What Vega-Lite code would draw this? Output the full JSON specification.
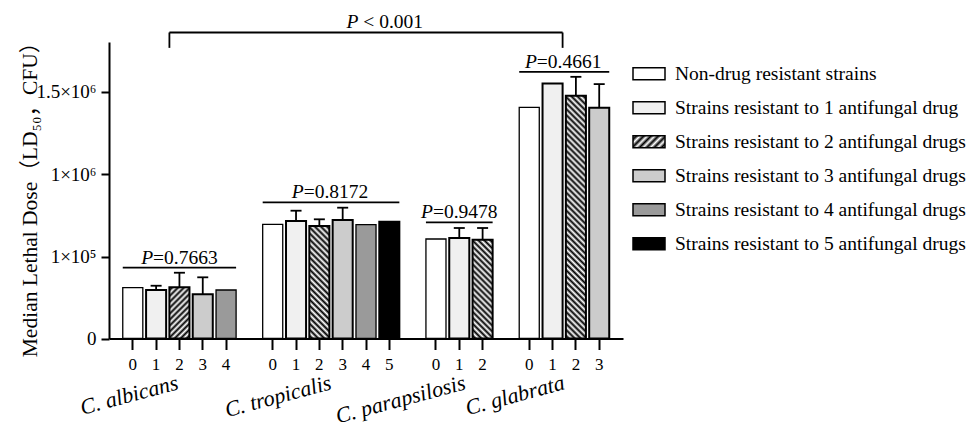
{
  "$schema": "https://vega.github.io/schema/vega-lite/v6.json",
  "width": 514,
  "height": 296.5,
  "autosize": {"type": "none"},
  "padding": {"left": 109, "top": 42, "right": 346, "bottom": 89.5},
  "background": "white",
  "config": {
    "view": {"stroke": null},
    "font": "Liberation Serif",
    "axis": {"labelFont": "Liberation Serif", "titleFont": "Liberation Serif, Noto Sans CJK SC", "labelColor": "black", "titleColor": "black", "domainColor": "black", "tickColor": "black", "grid": false}
  },
  "datasets": {
    "bars": [
      {"species": "albicans", "level": 0, "key": "albicans-0", "resistance": "Non-drug resistant strains", "value": 62100},
      {"species": "albicans", "level": 1, "key": "albicans-1", "resistance": "Strains resistant to 1 antifungal drug", "value": 59300, "upper": 64500},
      {"species": "albicans", "level": 2, "key": "albicans-2", "resistance": "Strains resistant to 2 antifungal drugs", "value": 62600, "upper": 80400},
      {"species": "albicans", "level": 3, "key": "albicans-3", "resistance": "Strains resistant to 3 antifungal drugs", "value": 54000, "upper": 74800},
      {"species": "albicans", "level": 4, "key": "albicans-4", "resistance": "Strains resistant to 4 antifungal drugs", "value": 59300},
      {"species": "tropicalis", "level": 0, "key": "tropicalis-0", "resistance": "Non-drug resistant strains", "value": 452600},
      {"species": "tropicalis", "level": 1, "key": "tropicalis-1", "resistance": "Strains resistant to 1 antifungal drug", "value": 488500, "upper": 600600},
      {"species": "tropicalis", "level": 2, "key": "tropicalis-2", "resistance": "Strains resistant to 2 antifungal drugs", "value": 434100, "upper": 507000},
      {"species": "tropicalis", "level": 3, "key": "tropicalis-3", "resistance": "Strains resistant to 3 antifungal drugs", "value": 499400, "upper": 633300},
      {"species": "tropicalis", "level": 4, "key": "tropicalis-4", "resistance": "Strains resistant to 4 antifungal drugs", "value": 448200},
      {"species": "tropicalis", "level": 5, "key": "tropicalis-5", "resistance": "Strains resistant to 5 antifungal drugs", "value": 480900},
      {"species": "parapsilosis", "level": 0, "key": "parapsilosis-0", "resistance": "Non-drug resistant strains", "value": 292600},
      {"species": "parapsilosis", "level": 1, "key": "parapsilosis-1", "resistance": "Strains resistant to 1 antifungal drug", "value": 303500, "upper": 412300},
      {"species": "parapsilosis", "level": 2, "key": "parapsilosis-2", "resistance": "Strains resistant to 2 antifungal drugs", "value": 285000, "upper": 412300},
      {"species": "glabrata", "level": 0, "key": "glabrata-0", "resistance": "Non-drug resistant strains", "value": 1405200},
      {"species": "glabrata", "level": 1, "key": "glabrata-1", "resistance": "Strains resistant to 1 antifungal drug", "value": 1551000},
      {"species": "glabrata", "level": 2, "key": "glabrata-2", "resistance": "Strains resistant to 2 antifungal drugs", "value": 1475700, "upper": 1591100},
      {"species": "glabrata", "level": 3, "key": "glabrata-3", "resistance": "Strains resistant to 3 antifungal drugs", "value": 1402800, "upper": 1546800}
    ],
    "brackets": [
      {"from": "albicans-0", "to": "albicans-4", "y": 86600},
      {"from": "tropicalis-0", "to": "tropicalis-5", "y": 692000},
      {"from": "parapsilosis-0", "to": "parapsilosis-2", "y": 474400},
      {"from": "glabrata-0", "to": "glabrata-3", "y": 1621500},
      {"from": "albicans-2", "to": "glabrata-1", "y": 1860900, "yLeg": 1767300}
    ],
    "pvals": [
      {"species": "albicans", "key": "albicans-2", "y": 86600, "rest": "=0.7663"},
      {"species": "tropicalis", "key": "tropicalis-2", "y": 692000, "rest": "=0.8172"},
      {"species": "parapsilosis", "key": "parapsilosis-1", "y": 474400, "rest": "=0.9478"},
      {"species": "glabrata", "key": "glabrata-1", "y": 1621500, "rest": "=0.4661"},
      {"species": "all", "key": "tropicalis-5", "y": 1860900, "rest": "< 0.001"}
    ],
    "names": [
      {"species": "albicans", "key": "albicans-2", "label": "C. albicans"},
      {"species": "tropicalis", "key": "tropicalis-3", "label": "C. tropicalis"},
      {"species": "parapsilosis", "key": "parapsilosis-1", "label": "C. parapsilosis"},
      {"species": "glabrata", "key": "glabrata-2", "label": "C. glabrata"}
    ]
  },
  "layer": [
    {
      "data": {"name": "bars"},
      "mark": {"type": "bar", "stroke": "black", "strokeWidth": 1.8},
      "encoding": {
        "x": {
          "field": "key", "type": "nominal",
          "scale": {"domain": ["albicans-0","albicans-1","albicans-2","albicans-3","albicans-4","gap-1","tropicalis-0","tropicalis-1","tropicalis-2","tropicalis-3","tropicalis-4","tropicalis-5","gap-2","parapsilosis-0","parapsilosis-1","parapsilosis-2","gap-3","glabrata-0","glabrata-1","glabrata-2","glabrata-3"], "paddingInner": 0.14, "paddingOuter": 0.59},
          "axis": {"values": ["albicans-0","albicans-1","albicans-2","albicans-3","albicans-4","tropicalis-0","tropicalis-1","tropicalis-2","tropicalis-3","tropicalis-4","tropicalis-5","parapsilosis-0","parapsilosis-1","parapsilosis-2","glabrata-0","glabrata-1","glabrata-2","glabrata-3"], "labelExpr": "split(datum.value, '-')[1]", "labelAngle": 0, "domain": true, "ticks": true, "tickSize": 11, "tickWidth": 2, "domainWidth": 2, "labelFontSize": 17, "labelPadding": 7, "title": null, "labelOverlap": false, "labelFlush": false}
        },
        "y": {
          "field": "value", "type": "quantitative",
          "scale": {"type": "linear", "domain": [0, 100000, 1000000, 1500000, 1803000], "range": [296.5, 214.7, 132, 49.8, 0], "nice": false, "zero": false},
          "axis": {"values": [0, 100000, 1000000, 1500000], "labelExpr": "datum.value == 0 ? '0' : datum.value == 100000 ? '1×10⁵' : datum.value == 1000000 ? '1×10⁶' : '1.5×10⁶'", "domain": true, "ticks": true, "tickSize": 8, "tickWidth": 2, "domainWidth": 2, "labelFontSize": 19, "labelPadding": 5, "title": "Median Lethal Dose（LD₅₀，CFU）", "titleFontSize": 21.5, "titleFontWeight": "normal", "titleX": -73, "titleY": 152, "titleAngle": 270, "titleAlign": "center", "titleBaseline": "alphabetic", "labelFlush": false, "labelOverlap": false}
        },
        "strokeWidth": {"condition": {"test": "datum.level == 0 || datum.level == 4", "value": 1.3}, "value": 2},
        "fill": {
          "field": "resistance", "type": "nominal",
          "scale": {
            "domain": ["Non-drug resistant strains", "Strains resistant to 1 antifungal drug", "Strains resistant to 2 antifungal drugs", "Strains resistant to 3 antifungal drugs", "Strains resistant to 4 antifungal drugs", "Strains resistant to 5 antifungal drugs"],
            "range": ["#ffffff", "#f0f0f0", {"expr": "{gradient:'linear',x1:0,y1:0,x2:1.2055,y2:0.4521,stops:[{offset:0,color:'#fff'},{offset:0.0833,color:'#000'},{offset:0.1667,color:'#fff'},{offset:0.25,color:'#000'},{offset:0.3333,color:'#fff'},{offset:0.4167,color:'#000'},{offset:0.5,color:'#fff'},{offset:0.5833,color:'#000'},{offset:0.6667,color:'#fff'},{offset:0.75,color:'#000'},{offset:0.8333,color:'#fff'},{offset:0.9167,color:'#000'},{offset:1,color:'#fff'}]}"}, "#cccccc", "#9a9a9a", "#000000"]
          },
          "legend": {"orient": "none", "legendX": 523, "legendY": 14.7, "title": null, "symbolType": "M-1,-0.375H1V0.375H-1Z", "symbolSize": 1024, "symbolStrokeColor": "black", "symbolStrokeWidth": 1.5, "labelFont": "Liberation Serif", "labelFontSize": 19.5, "labelColor": "black", "labelOffset": 9, "rowPadding": 7, "padding": 0, "labelLimit": 400, "symbolOpacity": 1},
          "condition": [
            {"test": "datum.species == 'albicans' && datum.level == 2", "value": {"gradient": "linear", "x1": 0, "y1": 0, "x2": 0.4724, "y2": 1.2065, "stops": [{"offset":0,"color":"#fff"},{"offset":0.0417,"color":"#000"},{"offset":0.0833,"color":"#fff"},{"offset":0.125,"color":"#000"},{"offset":0.1667,"color":"#fff"},{"offset":0.2083,"color":"#000"},{"offset":0.25,"color":"#fff"},{"offset":0.2917,"color":"#000"},{"offset":0.3333,"color":"#fff"},{"offset":0.375,"color":"#000"},{"offset":0.4167,"color":"#fff"},{"offset":0.4583,"color":"#000"},{"offset":0.5,"color":"#fff"},{"offset":0.5417,"color":"#000"},{"offset":0.5833,"color":"#fff"},{"offset":0.625,"color":"#000"},{"offset":0.6667,"color":"#fff"},{"offset":0.7083,"color":"#000"},{"offset":0.75,"color":"#fff"},{"offset":0.7917,"color":"#000"},{"offset":0.8333,"color":"#fff"},{"offset":0.875,"color":"#000"},{"offset":0.9167,"color":"#fff"},{"offset":0.9583,"color":"#000"},{"offset":1,"color":"#fff"}]}},
            {"test": "datum.species == 'tropicalis' && datum.level == 2", "value": {"gradient": "linear", "x1": 1, "y1": 0, "x2": 0.7965, "y2": 1.142, "stops": [{"offset":0,"color":"#fff"},{"offset":0.02273,"color":"#000"},{"offset":0.04545,"color":"#fff"},{"offset":0.06818,"color":"#000"},{"offset":0.09091,"color":"#fff"},{"offset":0.11364,"color":"#000"},{"offset":0.13636,"color":"#fff"},{"offset":0.15909,"color":"#000"},{"offset":0.18182,"color":"#fff"},{"offset":0.20455,"color":"#000"},{"offset":0.22727,"color":"#fff"},{"offset":0.25,"color":"#000"},{"offset":0.27273,"color":"#fff"},{"offset":0.29545,"color":"#000"},{"offset":0.31818,"color":"#fff"},{"offset":0.34091,"color":"#000"},{"offset":0.36364,"color":"#fff"},{"offset":0.38636,"color":"#000"},{"offset":0.40909,"color":"#fff"},{"offset":0.43182,"color":"#000"},{"offset":0.45455,"color":"#fff"},{"offset":0.47727,"color":"#000"},{"offset":0.5,"color":"#fff"},{"offset":0.52273,"color":"#000"},{"offset":0.54545,"color":"#fff"},{"offset":0.56818,"color":"#000"},{"offset":0.59091,"color":"#fff"},{"offset":0.61364,"color":"#000"},{"offset":0.63636,"color":"#fff"},{"offset":0.65909,"color":"#000"},{"offset":0.68182,"color":"#fff"},{"offset":0.70455,"color":"#000"},{"offset":0.72727,"color":"#fff"},{"offset":0.75,"color":"#000"},{"offset":0.77273,"color":"#fff"},{"offset":0.79545,"color":"#000"},{"offset":0.81818,"color":"#fff"},{"offset":0.84091,"color":"#000"},{"offset":0.86364,"color":"#fff"},{"offset":0.88636,"color":"#000"},{"offset":0.90909,"color":"#fff"},{"offset":0.93182,"color":"#000"},{"offset":0.95455,"color":"#fff"},{"offset":0.97727,"color":"#000"},{"offset":1,"color":"#fff"}]}},
            {"test": "datum.species == 'parapsilosis' && datum.level == 2", "value": {"gradient": "linear", "x1": 1, "y1": 0, "x2": 0.7655, "y2": 1.1556, "stops": [{"offset":0,"color":"#fff"},{"offset":0.025,"color":"#000"},{"offset":0.05,"color":"#fff"},{"offset":0.075,"color":"#000"},{"offset":0.1,"color":"#fff"},{"offset":0.125,"color":"#000"},{"offset":0.15,"color":"#fff"},{"offset":0.175,"color":"#000"},{"offset":0.2,"color":"#fff"},{"offset":0.225,"color":"#000"},{"offset":0.25,"color":"#fff"},{"offset":0.275,"color":"#000"},{"offset":0.3,"color":"#fff"},{"offset":0.325,"color":"#000"},{"offset":0.35,"color":"#fff"},{"offset":0.375,"color":"#000"},{"offset":0.4,"color":"#fff"},{"offset":0.425,"color":"#000"},{"offset":0.45,"color":"#fff"},{"offset":0.475,"color":"#000"},{"offset":0.5,"color":"#fff"},{"offset":0.525,"color":"#000"},{"offset":0.55,"color":"#fff"},{"offset":0.575,"color":"#000"},{"offset":0.6,"color":"#fff"},{"offset":0.625,"color":"#000"},{"offset":0.65,"color":"#fff"},{"offset":0.675,"color":"#000"},{"offset":0.7,"color":"#fff"},{"offset":0.725,"color":"#000"},{"offset":0.75,"color":"#fff"},{"offset":0.775,"color":"#000"},{"offset":0.8,"color":"#fff"},{"offset":0.825,"color":"#000"},{"offset":0.85,"color":"#fff"},{"offset":0.875,"color":"#000"},{"offset":0.9,"color":"#fff"},{"offset":0.925,"color":"#000"},{"offset":0.95,"color":"#fff"},{"offset":0.975,"color":"#000"},{"offset":1,"color":"#fff"}]}},
            {"test": "datum.species == 'glabrata' && datum.level == 2", "value": {"gradient": "linear", "x1": 1, "y1": 0, "x2": 0.9112, "y2": 1.0753, "stops": [{"offset":0,"color":"#fff"},{"offset":0.01136,"color":"#000"},{"offset":0.02273,"color":"#fff"},{"offset":0.03409,"color":"#000"},{"offset":0.04545,"color":"#fff"},{"offset":0.05682,"color":"#000"},{"offset":0.06818,"color":"#fff"},{"offset":0.07955,"color":"#000"},{"offset":0.09091,"color":"#fff"},{"offset":0.10227,"color":"#000"},{"offset":0.11364,"color":"#fff"},{"offset":0.125,"color":"#000"},{"offset":0.13636,"color":"#fff"},{"offset":0.14773,"color":"#000"},{"offset":0.15909,"color":"#fff"},{"offset":0.17045,"color":"#000"},{"offset":0.18182,"color":"#fff"},{"offset":0.19318,"color":"#000"},{"offset":0.20455,"color":"#fff"},{"offset":0.21591,"color":"#000"},{"offset":0.22727,"color":"#fff"},{"offset":0.23864,"color":"#000"},{"offset":0.25,"color":"#fff"},{"offset":0.26136,"color":"#000"},{"offset":0.27273,"color":"#fff"},{"offset":0.28409,"color":"#000"},{"offset":0.29545,"color":"#fff"},{"offset":0.30682,"color":"#000"},{"offset":0.31818,"color":"#fff"},{"offset":0.32955,"color":"#000"},{"offset":0.34091,"color":"#fff"},{"offset":0.35227,"color":"#000"},{"offset":0.36364,"color":"#fff"},{"offset":0.375,"color":"#000"},{"offset":0.38636,"color":"#fff"},{"offset":0.39773,"color":"#000"},{"offset":0.40909,"color":"#fff"},{"offset":0.42045,"color":"#000"},{"offset":0.43182,"color":"#fff"},{"offset":0.44318,"color":"#000"},{"offset":0.45455,"color":"#fff"},{"offset":0.46591,"color":"#000"},{"offset":0.47727,"color":"#fff"},{"offset":0.48864,"color":"#000"},{"offset":0.5,"color":"#fff"},{"offset":0.51136,"color":"#000"},{"offset":0.52273,"color":"#fff"},{"offset":0.53409,"color":"#000"},{"offset":0.54545,"color":"#fff"},{"offset":0.55682,"color":"#000"},{"offset":0.56818,"color":"#fff"},{"offset":0.57955,"color":"#000"},{"offset":0.59091,"color":"#fff"},{"offset":0.60227,"color":"#000"},{"offset":0.61364,"color":"#fff"},{"offset":0.625,"color":"#000"},{"offset":0.63636,"color":"#fff"},{"offset":0.64773,"color":"#000"},{"offset":0.65909,"color":"#fff"},{"offset":0.67045,"color":"#000"},{"offset":0.68182,"color":"#fff"},{"offset":0.69318,"color":"#000"},{"offset":0.70455,"color":"#fff"},{"offset":0.71591,"color":"#000"},{"offset":0.72727,"color":"#fff"},{"offset":0.73864,"color":"#000"},{"offset":0.75,"color":"#fff"},{"offset":0.76136,"color":"#000"},{"offset":0.77273,"color":"#fff"},{"offset":0.78409,"color":"#000"},{"offset":0.79545,"color":"#fff"},{"offset":0.80682,"color":"#000"},{"offset":0.81818,"color":"#fff"},{"offset":0.82955,"color":"#000"},{"offset":0.84091,"color":"#fff"},{"offset":0.85227,"color":"#000"},{"offset":0.86364,"color":"#fff"},{"offset":0.875,"color":"#000"},{"offset":0.88636,"color":"#fff"},{"offset":0.89773,"color":"#000"},{"offset":0.90909,"color":"#fff"},{"offset":0.92045,"color":"#000"},{"offset":0.93182,"color":"#fff"},{"offset":0.94318,"color":"#000"},{"offset":0.95455,"color":"#fff"},{"offset":0.96591,"color":"#000"},{"offset":0.97727,"color":"#fff"},{"offset":0.98864,"color":"#000"},{"offset":1,"color":"#fff"}]}}
          ]
        }
      }
    },
    {
      "data": {"name": "bars"},
      "transform": [{"filter": "isValid(datum.upper)"}],
      "mark": {"type": "rule", "stroke": "black", "strokeWidth": 1.8},
      "encoding": {
        "x": {"field": "key", "type": "nominal"},
        "y": {"field": "value", "type": "quantitative"},
        "y2": {"field": "upper"}
      }
    },
    {
      "data": {"name": "bars"},
      "transform": [{"filter": "isValid(datum.upper)"}],
      "mark": {"type": "tick", "color": "black", "size": 11, "thickness": 1.8, "opacity": 1},
      "encoding": {
        "x": {"field": "key", "type": "nominal"},
        "y": {"field": "upper", "type": "quantitative"}
      }
    },
    {
      "data": {"name": "brackets"},
      "mark": {"type": "rule", "stroke": "black", "strokeWidth": 1.8},
      "encoding": {
        "x": {"field": "from", "type": "nominal", "bandPosition": 0},
        "x2": {"field": "to", "bandPosition": 1},
        "y": {"field": "y", "type": "quantitative"}
      }
    },
    {
      "data": {"name": "brackets"},
      "transform": [{"filter": "isValid(datum.yLeg)"}],
      "mark": {"type": "rule", "stroke": "black", "strokeWidth": 1.8},
      "encoding": {
        "x": {"field": "from", "type": "nominal", "bandPosition": 0},
        "y": {"field": "y", "type": "quantitative"},
        "y2": {"field": "yLeg"}
      }
    },
    {
      "data": {"name": "brackets"},
      "transform": [{"filter": "isValid(datum.yLeg)"}],
      "mark": {"type": "rule", "stroke": "black", "strokeWidth": 1.8},
      "encoding": {
        "x": {"field": "to", "type": "nominal", "bandPosition": 1},
        "y": {"field": "y", "type": "quantitative"},
        "y2": {"field": "yLeg"}
      }
    },
    {
      "data": {"name": "pvals"},
      "transform": [{"filter": "indexof(['albicans', 'parapsilosis'], datum.species) >= 0"}],
      "mark": {"type": "text", "text": "P", "font": "Liberation Serif", "fontSize": 19.5, "fontStyle": "italic", "align": "right", "baseline": "alphabetic", "dx": -26.35, "dy": -4, "color": "black"},
      "encoding": {
        "x": {"field": "key", "type": "nominal", "bandPosition": 0.5},
        "y": {"field": "y", "type": "quantitative"}
      }
    },
    {
      "data": {"name": "pvals"},
      "transform": [{"filter": "indexof(['albicans', 'parapsilosis'], datum.species) >= 0"}],
      "mark": {"type": "text", "font": "Liberation Serif", "fontSize": 19.5, "align": "left", "baseline": "alphabetic", "dx": -26.35, "dy": -4, "color": "black"},
      "encoding": {
        "x": {"field": "key", "type": "nominal", "bandPosition": 0.5},
        "y": {"field": "y", "type": "quantitative"},
        "text": {"field": "rest"}
      }
    },
    {
      "data": {"name": "pvals"},
      "transform": [{"filter": "indexof(['tropicalis', 'glabrata'], datum.species) >= 0"}],
      "mark": {"type": "text", "text": "P", "font": "Liberation Serif", "fontSize": 19.5, "fontStyle": "italic", "align": "right", "baseline": "alphabetic", "dx": -26.35, "dy": -4, "color": "black"},
      "encoding": {
        "x": {"field": "key", "type": "nominal", "bandPosition": 1.03},
        "y": {"field": "y", "type": "quantitative"}
      }
    },
    {
      "data": {"name": "pvals"},
      "transform": [{"filter": "indexof(['tropicalis', 'glabrata'], datum.species) >= 0"}],
      "mark": {"type": "text", "font": "Liberation Serif", "fontSize": 19.5, "align": "left", "baseline": "alphabetic", "dx": -26.35, "dy": -4, "color": "black"},
      "encoding": {
        "x": {"field": "key", "type": "nominal", "bandPosition": 1.03},
        "y": {"field": "y", "type": "quantitative"},
        "text": {"field": "rest"}
      }
    },
    {
      "data": {"name": "pvals"},
      "transform": [{"filter": "datum.species == 'all'"}],
      "mark": {"type": "text", "text": "P", "font": "Liberation Serif", "fontSize": 19.5, "fontStyle": "italic", "align": "right", "baseline": "alphabetic", "dx": -26.35, "dy": -4.6, "color": "black"},
      "encoding": {
        "x": {"field": "key", "type": "nominal", "bandPosition": 0.27},
        "y": {"field": "y", "type": "quantitative"}
      }
    },
    {
      "data": {"name": "pvals"},
      "transform": [{"filter": "datum.species == 'all'"}],
      "mark": {"type": "text", "font": "Liberation Serif", "fontSize": 19.5, "align": "left", "baseline": "alphabetic", "dx": -21.45, "dy": -4.6, "color": "black"},
      "encoding": {
        "x": {"field": "key", "type": "nominal", "bandPosition": 0.27},
        "y": {"field": "y", "type": "quantitative"},
        "text": {"field": "rest"}
      }
    },
    {
      "data": {"name": "names"},
      "transform": [{"filter": "datum.species == 'albicans'"}],
      "mark": {"type": "text", "font": "Liberation Serif", "fontSize": 22, "fontStyle": "italic", "align": "right", "baseline": "alphabetic", "angle": -15, "color": "black"},
      "encoding": {
        "x": {"field": "key", "type": "nominal", "bandPosition": 0.5},
        "y": {"datum": -61700, "type": "quantitative"},
        "text": {"field": "label"}
      }
    },
    {
      "data": {"name": "names"},
      "transform": [{"filter": "indexof(['tropicalis', 'glabrata'], datum.species) >= 0"}],
      "mark": {"type": "text", "font": "Liberation Serif", "fontSize": 22, "fontStyle": "italic", "align": "right", "baseline": "alphabetic", "angle": -15, "color": "black"},
      "encoding": {
        "x": {"field": "key", "type": "nominal", "bandPosition": 0},
        "y": {"datum": -61700, "type": "quantitative"},
        "text": {"field": "label"}
      }
    },
    {
      "data": {"name": "names"},
      "transform": [{"filter": "datum.species == 'parapsilosis'"}],
      "mark": {"type": "text", "font": "Liberation Serif", "fontSize": 22, "fontStyle": "italic", "align": "right", "baseline": "alphabetic", "angle": -15, "color": "black"},
      "encoding": {
        "x": {"field": "key", "type": "nominal", "bandPosition": 0.87},
        "y": {"datum": -61700, "type": "quantitative"},
        "text": {"field": "label"}
      }
    }
  ]
}
